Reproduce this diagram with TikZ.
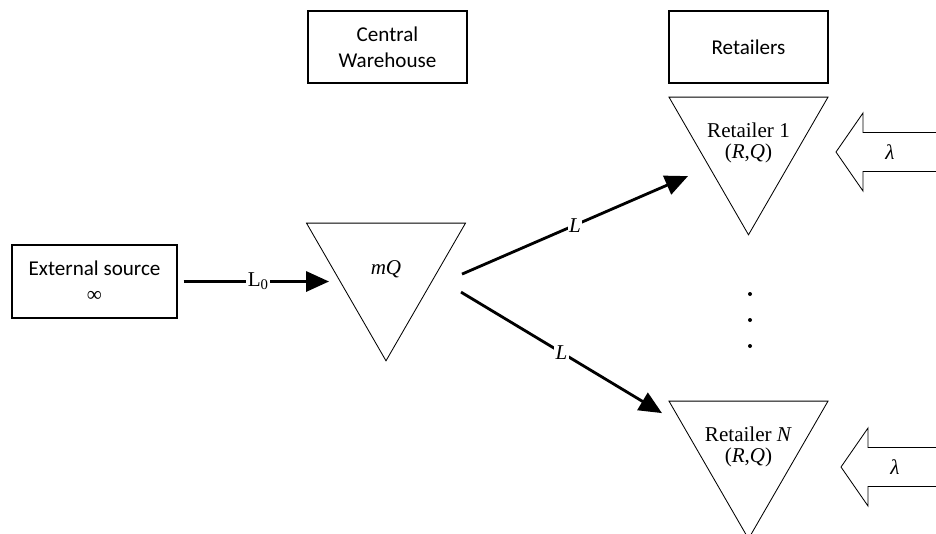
\documentclass[tikz,border=0pt]{standalone}
\usepackage{fontspec}
\setmainfont{Liberation Serif}
\newfontfamily\boxfont{Carlito}
\usepackage{tikz}
\usetikzlibrary{positioning}
\usetikzlibrary{shapes.geometric}
\usetikzlibrary{arrows.meta}

\tikzset{
  box/.style={draw, line width=1pt, minimum width=3.975cm, minimum height=1.8cm,
    align=center, font=\boxfont\fontsize{15}{18.5}\selectfont},
  stock/.style={draw, semithick, regular polygon, regular polygon sides=3,
    shape border rotate=180, minimum size=4.59cm, inner sep=0pt, outer sep=0pt},
  stocklbl/.style={align=center, font=\fontsize{15}{15.5}\selectfont},
  flow/.style={line width=2pt, -{Triangle[length=5.7mm,width=5mm]}},
  leadlbl/.style={fill=white, inner sep=1pt, font=\fontsize{15}{18}\selectfont},
  demand/.style={draw, semithick, line join=miter}
}

\begin{document}
\begin{tikzpicture}
  \useasboundingbox (0,0) rectangle (23.4,-13.325);
  % headings
  \node [box] (whbox) at (9.6875,-1.175) {Central\\Warehouse};
  \node [box] (retbox) at (18.7125,-1.175) {Retailers};
  \node [box, minimum width=4.125cm, minimum height=1.825cm] (src) at (2.3625,-7.0375)
    {External source\\{\rmfamily ∞}};
  % stock points
  \node [stock, label={[stocklbl]center:\itshape mQ}] (wh) at (9.65,-6.725) {};
  \node [stock, label={[stocklbl]center:Retailer 1\\(\textit{R},\textit{Q})}] (r1) at (18.7125,-3.575) {};
  \node [stock, label={[stocklbl]center:Retailer \textit{N}\\(\textit{R},\textit{Q})}] (rN) at (18.7125,-11.175) {};
  % lead times
  \draw [flow, shorten >=0.1cm] ([xshift=0.15cm]src.east) -- node [leadlbl] {L\textsubscript{0}} (src.east -| wh.west);
  \draw [flow] ([shift={(-0.0875,-1.275)}]wh.corner 2) -- node [leadlbl] {\itshape L} ([shift={(0.475,-1.975)}]r1.corner 3);
  \draw [flow] ([shift={(-0.1125,-1.725)}]wh.corner 2) -- node [leadlbl] {\itshape L} ([shift={(-0.175,-0.3)}]rN.corner 3);
  \foreach \y in {-7.35, -8.0, -8.65}{
    \fill (18.75,\y) circle (0.05);
  }
  % customer demand
  \coordinate (tip1) at (20.9,-3.8);
  \coordinate (tipN) at (21.025,-11.675);
  \foreach \t in {tip1, tipN}{
    \draw [demand] (\t) -- ++(0.675,0.975) -- ++(0,-0.4875) -- ++(2.6,0)
      -- ++(0,-0.975) -- ++(-2.6,0) -- ++(0,-0.4875) -- cycle;
  }
  \node [stocklbl] (lam1) at (22.25,-3.8) {\itshape λ};
  \node [stocklbl] (lamN) at (22.375,-11.675) {\itshape λ};
\end{tikzpicture}
\end{document}
